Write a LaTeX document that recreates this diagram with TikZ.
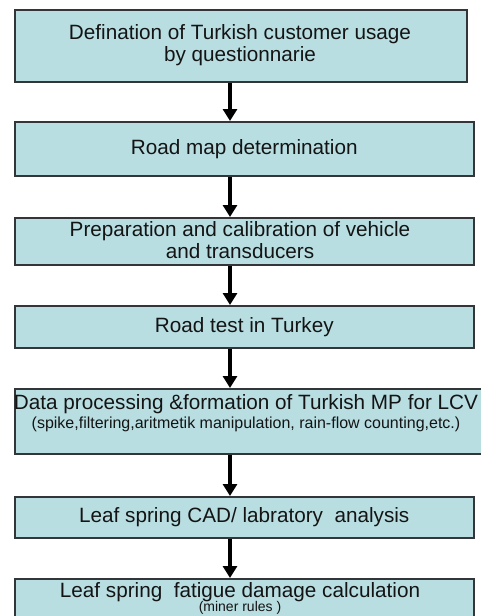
\documentclass[tikz,border=0pt]{standalone}
\usepackage{fontspec}
\setmainfont{Liberation Sans}
\usetikzlibrary{arrows.meta}
\definecolor{boxfill}{RGB}{184,222,226}
\definecolor{boxdraw}{RGB}{50,54,56}
\definecolor{txt}{RGB}{20,20,20}
\tikzset{
  stepbox/.style={draw=boxdraw, line width=1.6pt, fill=boxfill, inner sep=0pt, anchor=north west},
  bigtxt/.style={text=txt, align=center, inner sep=0pt, font=\fontsize{20.7}{22}\selectfont},
  arr/.style={line width=3.3pt, -{Triangle[width=14pt,length=12pt]}}
}
\begin{document}
\begin{tikzpicture}[x=1pt,y=-1pt]
\useasboundingbox (0,0) rectangle (481,616);
\clip (0,0) rectangle (481,616);
\fill[white] (0,0) rectangle (481,616);
\coordinate (ax) at (230,0);
% boxes
\node[stepbox, minimum width=452pt, minimum height=72pt] (b1) at (14,9) {};
\node[stepbox, minimum width=459pt, minimum height=54pt] (b2) at (14,121) {};
\node[stepbox, minimum width=459pt, minimum height=47pt] (b3) at (14,217) {};
\node[stepbox, minimum width=459pt, minimum height=42pt] (b4) at (14,305) {};
\node[stepbox, minimum width=476pt, minimum height=65pt] (b5) at (14,388) {};
\node[stepbox, minimum width=459pt, minimum height=41pt] (b6) at (14,496) {};
\node[stepbox, minimum width=459pt, minimum height=60pt] (b7) at (14,578) {};
% texts
\node[bigtxt] (t1) at (240,45) {Defination of Turkish customer usage\\by questionnarie};
\node[bigtxt] (t2) at (b2.center) {Road map determination};
\node[bigtxt] (t3) at (240,240.5) {Preparation and calibration of vehicle\\and transducers};
\node[bigtxt] (t4) at (b4.center) {Road test in Turkey};
\node[bigtxt] (t5) at (246,413) {Data processing \&formation of Turkish MP for LCV\\[-3pt]{\fontsize{16}{17}\selectfont (spike,filtering,aritmetik manipulation, rain-flow counting,etc.)}};
\node[bigtxt] (t6) at (b6.center) {Leaf spring CAD/ labratory~ analysis};
\node[bigtxt] (t7) at (240,598) {Leaf spring~ fatigue damage calculation\\[-8pt]{\fontsize{14}{15}\selectfont (miner rules )}};
% arrows
\draw[arr] (b1.south -| ax) -- (b2.north -| ax);
\draw[arr] (b2.south -| ax) -- (b3.north -| ax);
\draw[arr] (b3.south -| ax) -- (b4.north -| ax);
\draw[arr] (b4.south -| ax) -- (b5.north -| ax);
\draw[arr] (b5.south -| ax) -- (b6.north -| ax);
\draw[arr] (b6.south -| ax) -- (b7.north -| ax);
\end{tikzpicture}
\end{document}
